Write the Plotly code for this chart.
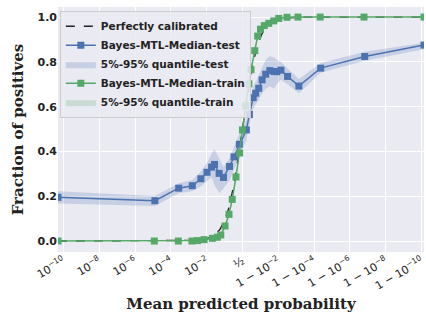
import numpy as np
import plotly.graph_objects as go

# Reliability diagram on a logit x-axis (values stored as log10 odds)
BLUE = "#4c72b0"
GREEN = "#55a868"

# Test set: bin positions (log10 odds), median fraction of positives, 5%/95% quantiles
test_logodds = [-10.3, -4.89, -3.56, -2.80, -2.32, -1.98, -1.72, -1.56, -1.30, -1.06,
                -0.72, -0.47, -0.17, 0.22, 0.39, 0.60, 0.74, 0.91, 1.10, 1.30,
                1.53, 1.77, 1.92, 2.15, 2.52, 3.15, 4.37, 6.83, 10.14]
test_median = [0.195, 0.180, 0.236, 0.247, 0.278, 0.307, 0.330, 0.342, 0.302, 0.284,
               0.333, 0.376, 0.432, 0.496, 0.565, 0.640, 0.660, 0.682, 0.720, 0.745,
               0.761, 0.757, 0.756, 0.763, 0.735, 0.692, 0.772, 0.824, 0.875]
test_q05 = [0.168, 0.156, 0.213, 0.222, 0.245, 0.270, 0.285, 0.250, 0.215, 0.235,
            0.270, 0.320, 0.380, 0.450, 0.520, 0.590, 0.610, 0.630, 0.660, 0.680,
            0.690, 0.680, 0.700, 0.720, 0.700, 0.660, 0.751, 0.805, 0.856]
test_q95 = [0.222, 0.201, 0.258, 0.272, 0.310, 0.350, 0.390, 0.410, 0.370, 0.330,
            0.370, 0.420, 0.480, 0.540, 0.610, 0.690, 0.710, 0.740, 0.780, 0.810,
            0.825, 0.820, 0.810, 0.800, 0.770, 0.723, 0.795, 0.845, 0.885]

# Train set
train_logodds = [-10.3, -4.92, -3.58, -2.82, -2.51, -2.14, -1.68, -1.40, -1.21, -0.97,
                 -0.75, -0.57, -0.36, -0.16, 0.0, 0.18, 0.36, 0.48, 0.69, 0.85,
                 1.01, 1.22, 1.47, 1.75, 2.03, 2.49, 3.10, 4.34, 6.79, 10.14]
train_median = [0.0, 0.0, 0.0, 0.0, 0.002, 0.006, 0.012, 0.017, 0.027, 0.067,
                0.119, 0.186, 0.286, 0.393, 0.496, 0.603, 0.702, 0.765, 0.850, 0.915,
                0.946, 0.962, 0.972, 0.983, 0.994, 0.999, 1.0, 1.0, 1.0, 1.0]
train_q05 = [0.0, 0.0, 0.0, 0.0, 0.0, 0.003, 0.008, 0.012, 0.020, 0.056,
             0.105, 0.170, 0.268, 0.375, 0.478, 0.586, 0.688, 0.752, 0.838, 0.905,
             0.938, 0.955, 0.966, 0.978, 0.990, 0.997, 0.999, 1.0, 1.0, 1.0]
train_q95 = [0.001, 0.001, 0.001, 0.002, 0.004, 0.009, 0.016, 0.022, 0.034, 0.078,
             0.133, 0.202, 0.304, 0.411, 0.514, 0.620, 0.716, 0.778, 0.862, 0.925,
             0.954, 0.969, 0.978, 0.988, 0.997, 1.0, 1.0, 1.0, 1.0, 1.0]

# Logit-axis ticks: probabilities and their labels
tick_probs = [1e-10, 1e-8, 1e-6, 1e-4, 1e-2, 0.5,
              1 - 1e-2, 1 - 1e-4, 1 - 1e-6, 1 - 1e-8, 1 - 1e-10]
tick_labels = ["10<sup>−10</sup>", "10<sup>−8</sup>", "10<sup>−6</sup>", "10<sup>−4</sup>",
               "10<sup>−2</sup>", "½", "1 − 10<sup>−2</sup>", "1 − 10<sup>−4</sup>",
               "1 − 10<sup>−6</sup>", "1 − 10<sup>−8</sup>", "1 − 10<sup>−10</sup>"]
y_ticks = [0.0, 0.2, 0.4, 0.6, 0.8, 1.0]


def log_odds(p):
    p = np.asarray(p, dtype=float)
    return np.log10(p / (1 - p))


x_range = [-10.3, 10.14]

fig = go.Figure()

# Perfect calibration: fraction of positives equals the predicted probability
diag_l = np.linspace(x_range[0], x_range[1], 400)
diag_p = 1 / (1 + 10 ** (-diag_l))


def band(x, lo, hi, color, name, rank):
    fig.add_trace(go.Scatter(x=x, y=lo, mode="lines", line=dict(width=0),
                             showlegend=False, hoverinfo="skip"))
    fig.add_trace(go.Scatter(x=x, y=hi, mode="lines", line=dict(width=0),
                             fill="tonexty", fillcolor=color, name=name,
                             legendrank=rank))


band(test_logodds, test_q05, test_q95, "rgba(76,114,176,0.22)", "5%-95% quantile-test", 3)
band(train_logodds, train_q05, train_q95, "rgba(85,168,104,0.22)", "5%-95% quantile-train", 5)

fig.add_trace(go.Scatter(x=diag_l, y=diag_p, mode="lines",
                         line=dict(color="#222222", width=1.4, dash="dash"),
                         name="Perfectly calibrated", legendrank=1))
fig.add_trace(go.Scatter(x=test_logodds, y=test_median, mode="lines+markers",
                         line=dict(color=BLUE, width=1.5),
                         marker=dict(symbol="square", size=7, color=BLUE),
                         name="Bayes-MTL-Median-test", legendrank=2))
fig.add_trace(go.Scatter(x=train_logodds, y=train_median, mode="lines+markers",
                         line=dict(color=GREEN, width=1.5),
                         marker=dict(symbol="square", size=7, color=GREEN),
                         name="Bayes-MTL-Median-train", legendrank=4))

title_font = dict(family="DejaVu Serif", size=15, color="#222222", weight="bold")

fig.update_layout(
    width=426, height=320,
    margin=dict(l=58, r=0, t=7, b=68),
    paper_bgcolor="white",
    plot_bgcolor="#eaeaf2",
    font=dict(family="DejaVu Sans", color="#222222"),
    legend=dict(
        x=0.005, y=0.985, xanchor="left", yanchor="top",
        traceorder="normal",
        bgcolor="rgba(234,234,242,0.85)", bordercolor="#cccccc", borderwidth=1,
        font=dict(family="DejaVu Sans", size=10.5, weight="bold", color="#222222"),
        tracegroupgap=0, itemwidth=30,
    ),
    xaxis=dict(
        range=x_range, tickmode="array",
        tickvals=log_odds(tick_probs).tolist(), ticktext=tick_labels,
        tickangle=-30, tickfont=dict(size=11, color="#222222"),
        ticklabeloverflow="allow",
        showgrid=True, gridcolor="white", gridwidth=1, zeroline=False,
        showline=False, ticks="",
        title=dict(text="Mean predicted probability", font=title_font, standoff=6),
    ),
    yaxis=dict(
        range=[-0.049, 1.045], tickmode="array", tickvals=y_ticks,
        tickformat=".1f", tickfont=dict(size=11, weight="bold", color="#222222"),
        showgrid=True, gridcolor="white", gridwidth=1, zeroline=False,
        showline=False, ticks="",
        title=dict(text="Fraction of positives", font=title_font, standoff=10),
    ),
)

fig.write_html("out.html")
